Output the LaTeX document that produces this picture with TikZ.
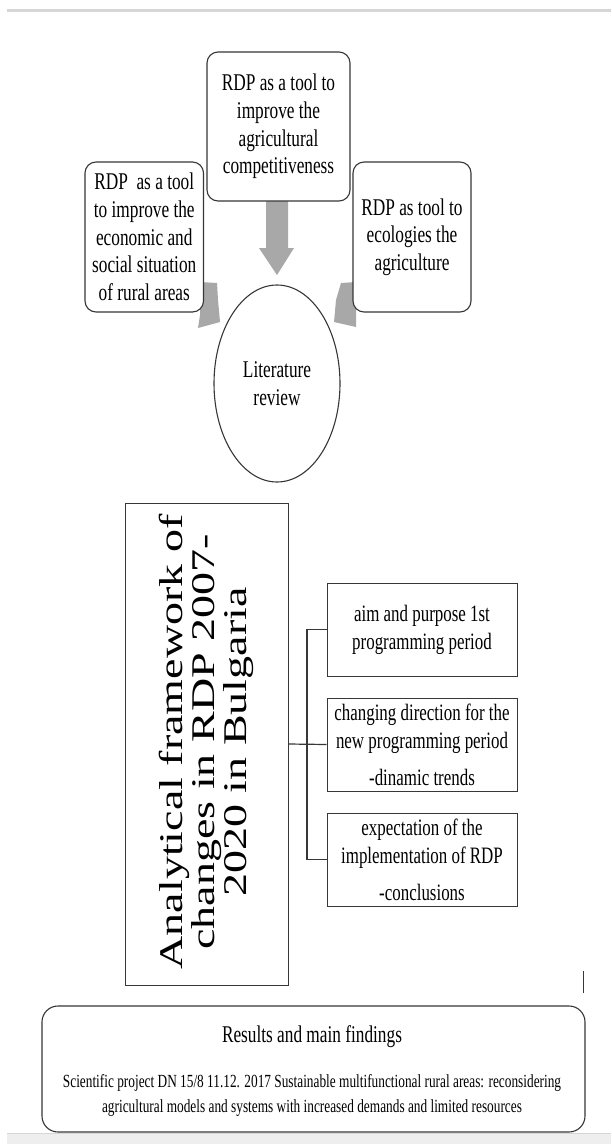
\documentclass[tikz,border=0pt]{standalone}
\usepackage{fontspec}
\setmainfont[FakeStretch=0.72]{Liberation Serif}
\newfontfamily\regserif{Liberation Serif}
\usetikzlibrary{shapes.geometric}
\definecolor{arrowgray}{RGB}{168,168,168}
\definecolor{linegray}{RGB}{55,55,55}
\definecolor{bargray}{RGB}{214,214,214}
\definecolor{bandgray}{RGB}{238,238,238}
\begin{document}
\begin{tikzpicture}[x=1pt,y=-1pt,
  rbox/.style={draw=linegray, line width=1.1pt, rounded corners=11pt, fill=white,
    align=center, inner sep=0pt, font=\fontsize{24}{27.7}\selectfont},
  sbox/.style={draw=linegray, line width=1pt, fill=white, align=center, inner sep=0pt,
    font=\fontsize{23.5}{28}\selectfont},
  conn/.style={draw=linegray, line width=1.2pt},
  garrow/.style={fill=arrowgray},
  ttxt/.style={align=center, inner sep=0pt}]
\useasboundingbox (0,0) rectangle (611,1144);
\fill[white] (0,0) rectangle (611,1144);
% top bar and bottom band
\fill[bargray] (7,8.5) rectangle (611,11.5);
\fill[bandgray] (7,1133) rectangle (611,1144);
\draw[bargray, line width=0.8pt] (7,1133.4) -- (611,1133.4);
% gray arrows
\fill[garrow] (266,201) -- (288,201) -- (288,248) -- (294,248) -- (277,275) -- (259,248) -- (266,248) -- cycle;
\fill[garrow] (217,283) -- (200,282) -- (200,315) -- (198,328) -- (220,322) -- (218,300) -- cycle;
\fill[garrow] (341,283) -- (356,282) -- (356,315) -- (356,327) -- (334,322) -- (336,300) -- cycle;
% top boxes
\node[rbox, minimum width=143pt, minimum height=149pt] (top) at (278.5,126.5)
  {RDP as a tool to\\improve the\\agricultural\\competitiveness};
\node[rbox, minimum width=118.5pt, minimum height=150pt] (left) at (144.25,237)
  {RDP\ \ as a tool\\to improve the\\economic and\\social situation\\of rural areas};
\node[rbox, minimum width=118pt, minimum height=150pt] (right) at (412,237)
  {RDP as tool to\\ecologies the\\agriculture};
% circle
\node[ellipse, draw=linegray, line width=1.1pt, minimum width=126pt, minimum height=197pt,
  inner sep=0pt, align=center, font=\fontsize{24}{28}\selectfont] (lit) at (277,383.5)
  {Literature\\review};
% analytical box
\node[sbox, minimum width=163pt, minimum height=482pt] (ana) at (206.5,744) {};
\node[ttxt, rotate=90] (anatxt) at (207,742)
  {\scalebox{1}[0.72]{\regserif\fontsize{46}{41.5}\selectfont
   \begin{tabular}{@{}c@{}}Analytical framework of\\changes in RDP 2007-\\2020 in Bulgaria\end{tabular}}};
% right boxes
\node[sbox, minimum width=190pt, minimum height=93pt] (b1) at (422,629.5)
  {aim and purpose 1st\\programming period};
\node[sbox, minimum width=190pt, minimum height=93pt] (b2) at (422,744.5)
  {changing direction for the\\new programming period\\[9pt]-dinamic trends};
\node[sbox, minimum width=190pt, minimum height=93pt] (b3) at (422,859.5)
  {expectation of the\\implementation of RDP\\[9pt]-conclusions};
% connectors
\coordinate (bus) at (307,744);
\draw[conn] (ana.east) -- (b2.west);
\draw[conn] (b1.west) -- (b1.west -| bus) |- (b3.west);
% small mark
\coordinate (m1) at (583.5,971);
\coordinate (m2) at (583.5,993);
\draw[linegray, line width=1.3pt] (m1) -- (m2);
% results box
\node[draw=linegray, line width=1.1pt, rounded corners=16pt, minimum width=543pt,
  minimum height=126pt, inner sep=0pt] (res) at (313.5,1069) {};
\node[ttxt, font=\fontsize{24}{28}\selectfont] (restitle) at (312,1037) {Results and main findings};
\node[ttxt, font=\fontsize{18.5}{25}\selectfont] (restxt) at (312,1095.5)
  {Scientific project DN 15/8 11.12. 2017 Sustainable multifunctional rural areas: reconsidering\\
   agricultural models and systems with increased demands and limited resources};
\end{tikzpicture}
\end{document}
